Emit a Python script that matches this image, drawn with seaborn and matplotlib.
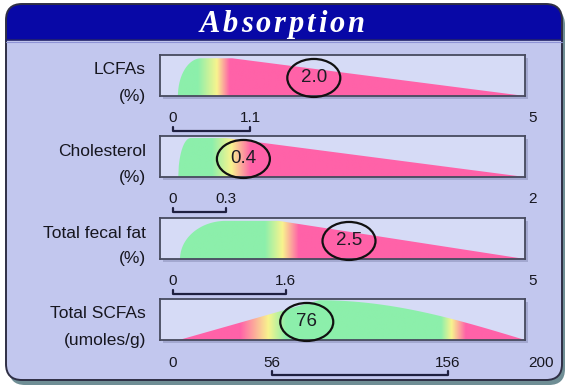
import numpy as np
import matplotlib
matplotlib.use("Agg")
import matplotlib.pyplot as plt
from matplotlib.patches import FancyBboxPatch, Rectangle, Ellipse, Polygon
from matplotlib.transforms import Affine2D, ScaledTranslation, offset_copy
from matplotlib.colors import to_rgb
import seaborn as sns

# --- datos ---
row_names = ["LCFAs", "Cholesterol", "Total fecal fat", "Total SCFAs"]
row_units = ["(%)", "(%)", "(%)", "(umoles/g)"]
scale_max = [5, 2, 5, 200]
normal_low = [0, 0, 0, 56]
normal_high = [1.1, 0.3, 1.6, 156]
measured = [2.0, 0.4, 2.5, 76]
measured_txt = ["2.0", "0.4", "2.5", "76"]
tick_vals = [[0, 1.1, 5], [0, 0.3, 2], [0, 1.6, 5], [0, 56, 156, 200]]
tick_txt = [["0", "1.1", "5"], ["0", "0.3", "2"], ["0", "1.6", "5"], ["0", "56", "156", "200"]]

# forma de la distribucion (unidades de cada escala)
shape_start = [0.07, 0.03, 0.1, 3.4]
shape_rise_end = [0.4, 0.1, 0.75, 83]
shape_fall_start = [0.84, 0.3, 1.5, 83]
shape_height = [0.92, 0.95, 0.93, 0.97]
shape_rise = ["arc", "arc", "arc", "line"]
shape_fall = ["line", "line", "line", "dome"]

# transiciones de color (verde / amarillo / rosa)
G, Y, P = "#8cefab", "#f8f48e", "#ff62a8"
stop_vals = [[0, 0.35, 0.62, 0.8, 5],
             [0, 0.22, 0.33, 0.44, 2],
             [0, 1.3, 1.55, 1.78, 5],
             [0, 38, 54, 64, 152, 158, 166, 200]]
stop_cols = [[G, G, Y, P, P],
             [G, G, Y, P, P],
             [G, G, Y, P, P],
             [P, P, Y, G, G, Y, P, P]]

sns.set_theme(style="white")
plt.rcParams["font.family"] = ["Liberation Sans", "DejaVu Sans"]

W, H = 569, 385
fig = plt.figure(figsize=(W / 100, H / 100), dpi=100)
fig.patch.set_facecolor("white")

bg = fig.add_axes([0, 0, 1, 1], zorder=0)
bg.set_xlim(0, W)
bg.set_ylim(H, 0)
bg.axis("off")

# panel con sombra y cabecera
box = "round,pad=0,rounding_size=16"
bg.add_patch(FancyBboxPatch((9, 9), 556, 376, boxstyle=box, fc="#6f8e95", ec="none"))
panel = FancyBboxPatch((6, 4), 556, 376, boxstyle=box, fc="#c2c7ee", ec="none")
bg.add_patch(panel)
header = Rectangle((0, 0), W, 40, fc="#0808a6", ec="none")
bg.add_patch(header)
header.set_clip_path(panel)
bg.plot([6, 562], [40, 40], color="#23236a", lw=1.2)
bg.plot([6, 562], [41.5, 41.5], color="#8e93d6", lw=0.8)
bg.add_patch(FancyBboxPatch((6, 4), 556, 376, boxstyle=box, fc="none", ec="#2f2f45", lw=1.4))

# titulo con espaciado entre letras
renderer = fig.canvas.get_renderer()
title = "Absorption"
tkw = dict(fontsize=22, fontfamily="Liberation Serif", fontstyle="italic",
           fontweight="bold", color="white", va="baseline", ha="left")
widths = []
for ch in title:
    t = bg.text(0, 0, ch, **tkw)
    widths.append(t.get_window_extent(renderer).width)
    t.remove()
gap = 2.8
total = sum(widths) + gap * (len(title) - 1)
x = 282 - total / 2
for ch, w in zip(title, widths):
    bg.text(x, 32, ch, **tkw)
    x += w + gap

# filas
bar_top = [55, 136, 218, 299]
bar_h = 41
bar_left, bar_w = 160, 365
txt_col = "#16161f"


def profile(xs, i):
    s, r, f, e = shape_start[i], shape_rise_end[i], shape_fall_start[i], scale_max[i]
    t = np.clip((xs - s) / (r - s), 0, 1)
    up = np.sqrt(1 - (1 - t) ** 2) if shape_rise[i] == "arc" else t
    u = np.clip((xs - f) / (e - f), 0, 1)
    down = 1 - u if shape_fall[i] == "line" else np.cos(np.pi / 2 * u)
    return shape_height[i] * np.where(xs < s, 0, np.where(xs <= f, up, down))


for i in range(4):
    vmax = scale_max[i]
    xmin = -13 / 352 * vmax
    ax = fig.add_axes([bar_left / W, 1 - (bar_top[i] + bar_h) / H, bar_w / W, bar_h / H],
                      zorder=2)

    # corchete del rango normal (dibujado primero, seaborn ajusta limites)
    xtr = ax.get_xaxis_transform()
    yb = -35 / bar_h
    yt = yb + 4.5 / bar_h
    lo, hi = normal_low[i], normal_high[i]
    sns.lineplot(x=[lo, lo, hi, hi], y=[yt, yb, yb, yt], sort=False, estimator=None,
                 ax=ax, color="#1f2040", lw=1.6, transform=xtr, clip_on=False,
                 legend=False)
    ax.set_xlabel("")
    ax.set_ylabel("")

    ax.set_xlim(xmin, vmax)
    ax.set_ylim(0, 1)
    ax.set_facecolor("#d6dbf6")
    ax.set_xticks([])
    ax.set_yticks([])
    for sp in ax.spines.values():
        sp.set_color("#474a5e")
        sp.set_linewidth(1.3)

    # sombra de la barra
    sh = Rectangle((0, 0), 1, 1, fc="#8f94bd", ec="none", alpha=0.6, clip_on=False,
                   transform=ax.transAxes + ScaledTranslation(3 / 100, -3 / 100, fig.dpi_scale_trans))
    bg.add_patch(sh)

    # relleno con degradado
    xs = np.linspace(xmin, vmax, 700)
    rgb = np.array([to_rgb(c) for c in stop_cols[i]])
    grad = np.stack([np.interp(xs, stop_vals[i], rgb[:, k]) for k in range(3)], axis=-1)
    im = ax.imshow(grad[np.newaxis, :, :], extent=[xmin, vmax, 0, 1], aspect="auto",
                   origin="lower", interpolation="bilinear", zorder=1)
    top = profile(xs, i)
    poly = Polygon(np.column_stack([np.r_[xs, xs[::-1]], np.r_[top, np.zeros_like(xs)]]),
                   fc="none", ec="none")
    ax.add_patch(poly)
    im.set_clip_path(poly)

    # valor medido dentro de una elipse
    etr = Affine2D() + ScaledTranslation(measured[i], 0.44, ax.transData)
    ax.add_patch(Ellipse((0, 0), 53, 38, fc="none", ec="#111111", lw=1.6,
                         transform=etr, clip_on=False, zorder=5))
    ax.text(measured[i], 0.44, measured_txt[i], ha="center", va="center",
            fontsize=13.5, color="#1c1c24", zorder=6)

    # nombres de fila
    lab_tr = offset_copy(ax.transAxes, fig=fig, x=-14, y=0, units="dots")
    ax.text(0, 1 - 15 / bar_h, row_names[i], ha="right", va="center", fontsize=12.5,
            color=txt_col, transform=lab_tr)
    ax.text(0, 0.0, row_units[i], ha="right", va="center", fontsize=12.5,
            color=txt_col, transform=lab_tr)

    # etiquetas de escala
    ty = -(22 if i < 3 else 23) / bar_h
    for v, s in zip(tick_vals[i], tick_txt[i]):
        if v == vmax:
            ax.text(v, ty, s, ha="left", va="center", fontsize=11, color=txt_col,
                    transform=offset_copy(xtr, fig=fig, x=3, y=0, units="dots"))
        else:
            ax.text(v, ty, s, ha="center", va="center", fontsize=11,
                    color=txt_col, transform=xtr)

fig.savefig("out.png", dpi=100)
